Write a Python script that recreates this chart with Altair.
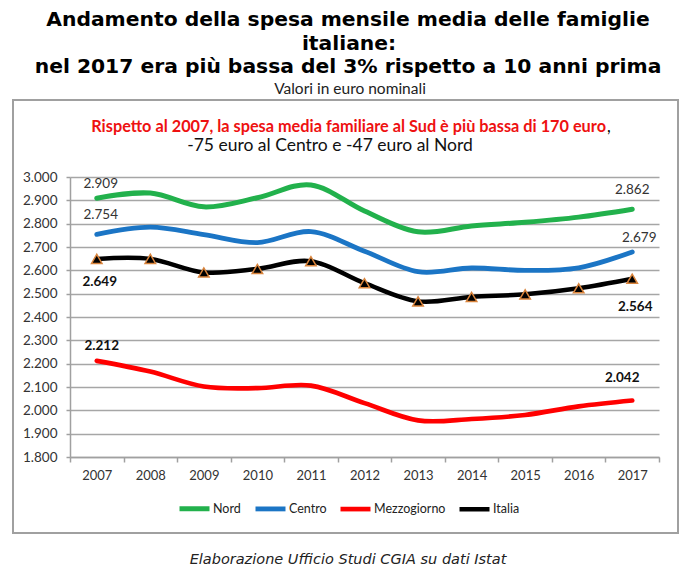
import altair as alt
import pandas as pd

# ---------------- data ----------------
years = [2007, 2008, 2009, 2010, 2011, 2012, 2013, 2014, 2015, 2016, 2017]
nord = [2909, 2931, 2872, 2911, 2966, 2854, 2765, 2790, 2806, 2828, 2862]
centro = [2754, 2785, 2753, 2719, 2766, 2682, 2594, 2610, 2600, 2611, 2679]
mezzogiorno = [2212, 2166, 2102, 2095, 2106, 2031, 1957, 1963, 1980, 2017, 2042]
italia = [2649, 2649, 2591, 2606, 2639, 2545, 2467, 2486, 2497, 2523, 2564]

series_names = ["Nord", "Centro", "Mezzogiorno", "Italia"]
series_colors = ["#22b14c", "#1b75c5", "#ff0000", "#000000"]
series_widths = [5, 4.5, 6.5, 4.5]

y_ticks = [1800, 1900, 2000, 2100, 2200, 2300, 2400, 2500, 2600, 2700, 2800, 2900, 3000]

title_lines = [
    "Andamento della spesa mensile media delle famiglie",
    "italiane:",
    "nel 2017 era più bassa del 3% rispetto a 10 anni prima",
]
subtitle = "Valori in euro nominali"
note_red = "Rispetto al 2007, la spesa media familiare al Sud è più bassa di 170 euro"
note_black = "-75 euro al Centro e -47 euro al Nord"
source = "Elaborazione Ufficio Studi CGIA su dati Istat"

rows = []
for name, vals in zip(series_names, [nord, centro, mezzogiorno, italia]):
    for yr, v in zip(years, vals):
        rows.append({"anno": str(yr), "serie": name, "valore": v})
df = pd.DataFrame(rows)

W, H = 589, 280
FMT = "replace(format(datum.valore, ',.0f'), ',', '.')"

x_enc = alt.X(
    "anno:O",
    scale=alt.Scale(type="band", paddingInner=0, paddingOuter=0),
    bandPosition=0.5,
    title=None,
    axis=alt.Axis(
        labelAngle=0, tickBand="extent", tickSize=5, labelPadding=7,
        grid=False, domainColor="#a0a0a0", domainWidth=1.5,
        tickColor="#a0a0a0", tickWidth=1.5,
        labelFont="Lato", labelFontSize=13, labelColor="#333",
    ),
)
y_enc = alt.Y(
    "valore:Q",
    scale=alt.Scale(domain=[1800, 3000], nice=False, zero=False),
    title=None,
    axis=alt.Axis(
        values=y_ticks,
        labelExpr="replace(format(datum.value, ',.0f'), ',', '.')",
        tickSize=4, labelPadding=9, grid=True,
        gridColor="#a6a6a6", gridWidth=1.5,
        domainColor="#a0a0a0", domainWidth=1.5,
        tickColor="#a0a0a0", tickWidth=1.5,
        labelFont="Lato", labelFontSize=13.5, labelColor="#333",
    ),
)

base = alt.Chart(df)

lines = base.mark_line(interpolate="cardinal", strokeCap="round").encode(
    x=x_enc,
    y=y_enc,
    color=alt.Color(
        "serie:N",
        scale=alt.Scale(domain=series_names, range=series_colors),
        legend=alt.Legend(
            title=None, orient="none", direction="horizontal",
            legendX=107, legendY=314,
            symbolType="stroke", symbolStrokeWidth=5, symbolSize=900,
            labelFont="Lato", labelFontSize=12.5, labelColor="#222",
            labelOffset=1, columnPadding=4,
        ),
    ),
    strokeWidth=alt.StrokeWidth(
        "serie:N",
        scale=alt.Scale(domain=series_names, range=series_widths),
        legend=None,
    ),
    order=alt.Order("anno:O"),
)

triangles = base.transform_filter(alt.datum.serie == "Italia").mark_point(
    shape="triangle-up", filled=True, fill="#000000", stroke="#d9843c",
    strokeWidth=1.5, size=110, opacity=1,
).encode(x=x_enc, y=y_enc)


def value_label(serie, year, dx, dy, bold):
    return (
        base.transform_filter((alt.datum.serie == serie) & (alt.datum.anno == str(year)))
        .transform_calculate(lbl=FMT)
        .mark_text(
            font="Lato", fontSize=13.5, fontWeight="bold" if bold else "normal",
            color="#111" if bold else "#333", dx=dx, dy=dy, baseline="middle",
        )
        .encode(x=x_enc, y=y_enc, text="lbl:N")
    )


labels = [
    value_label("Nord", 2007, 4, -14, False),
    value_label("Nord", 2017, 0, -19, False),
    value_label("Centro", 2007, 4, -19, False),
    value_label("Centro", 2017, 7, -14, False),
    value_label("Italia", 2007, 3, 23, True),
    value_label("Italia", 2017, 3, 28, True),
    value_label("Mezzogiorno", 2007, 5, -15, True),
    value_label("Mezzogiorno", 2017, -10, -23, True),
]

one = alt.Data(values=[{"k": 1}])


def txt(text, x, y, **kw):
    return alt.Chart(one).mark_text(baseline="middle", **kw).encode(
        x=alt.value(x), y=alt.value(y), text=alt.value(text)
    )


frame = alt.Chart(one).mark_rect(fill=None, stroke="#a0a0a0", strokeWidth=2).encode(
    x=alt.value(-57), x2=alt.value(608), y=alt.value(-77), y2=alt.value(356)
)

TF = dict(font="DejaVu Sans", fontSize=20.3, fontWeight="bold", color="#000", align="center")
texts = [
    txt(title_lines[0], 278, -157, **TF),
    txt(title_lines[1], 279, -133, **TF),
    txt(title_lines[2], 278, -110, **TF),
    txt(subtitle, 280, -88, font="Lato", fontSize=15.5, color="#222", align="center"),
    txt(note_red, 536, -50, font="Lato", fontSize=16.3, fontWeight="bold", color="#ee1111", align="right"),
    txt(",", 537, -50, font="Lato", fontSize=16.3, color="#000", align="left"),
    txt(note_black, 260, -31, font="Lato", fontSize=17.5, color="#111", align="center"),
    txt(source, 278, 383, font="DejaVu Sans", fontSize=14.5, fontStyle="italic", color="#222", align="center"),
]

chart = (
    alt.layer(frame, lines, triangles, *labels, *texts)
    .properties(
        width=W, height=H,
        autosize=alt.AutoSizeParams(type="none"),
        padding={"left": 70, "top": 177, "right": 37, "bottom": 131},
    )
    .configure_view(stroke=None)
)

chart.save("out.html", embed_options={"renderer": "svg", "actions": False})
